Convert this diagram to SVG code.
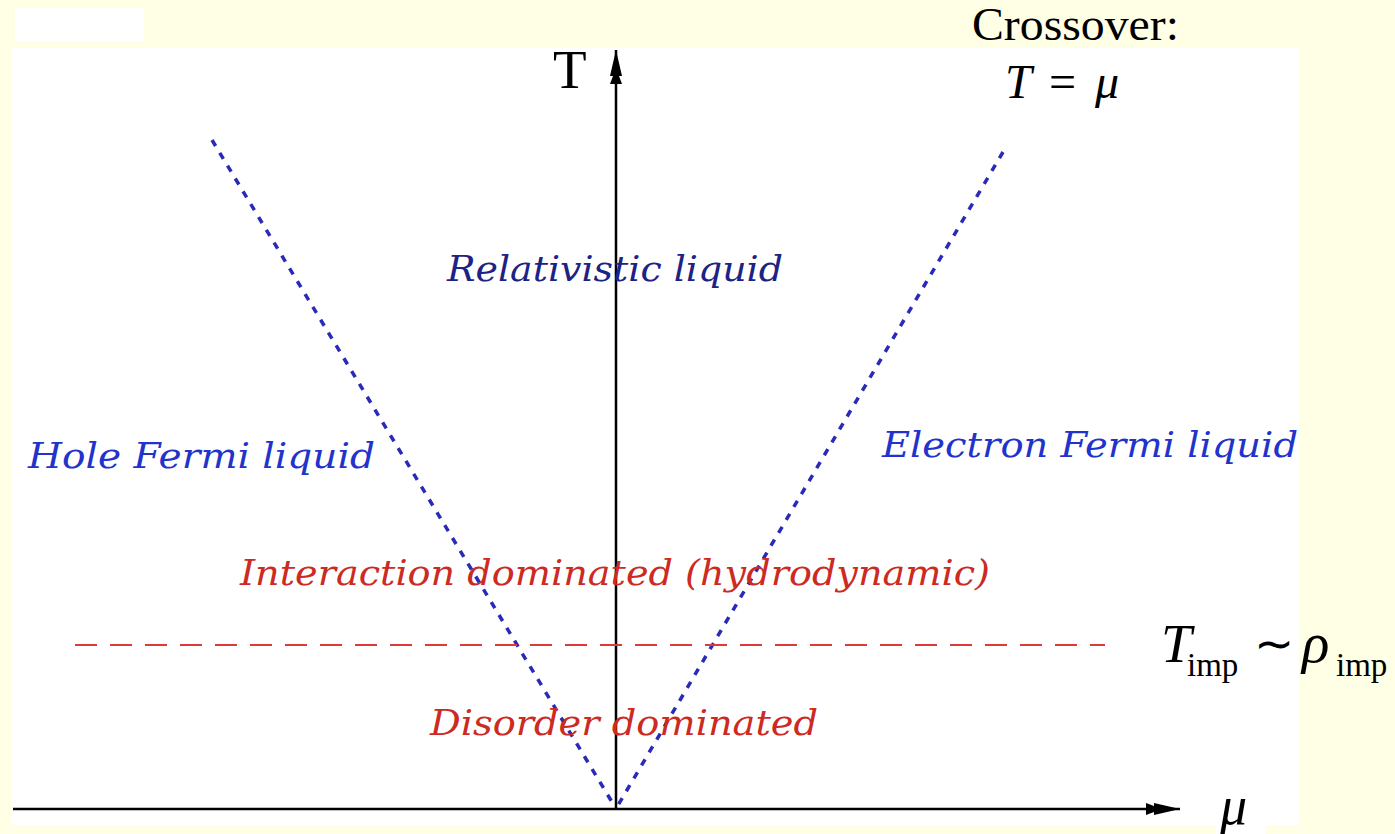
<svg xmlns="http://www.w3.org/2000/svg" width="1395" height="834" viewBox="0 0 1395 834">
<defs>
<style>
.bg{fill:#ffffe6}
.panel{fill:#ffffff}
.axis{stroke:#000;stroke-width:2.5;fill:none}
.cross{stroke:#2a2ab8;stroke-width:3.5;stroke-dasharray:7 8;fill:none}
.imp{stroke:#dd3a3a;stroke-width:2;stroke-dasharray:22 13;fill:none}
.lbl{font-family:"DejaVu Serif","Liberation Serif",serif;font-style:italic}
.math{font-family:"Liberation Serif","Times New Roman",serif;fill:#000}
.blue{fill:#2233cc}
.navy{fill:#1c2384}
.red{fill:#cc2a22}
</style>
<marker id="ah" viewBox="0 0 36 16" refX="34" refY="8" markerWidth="36" markerHeight="16" markerUnits="userSpaceOnUse" orient="auto">
<path d="M0,2 L8,5 L8,2 L34,8 L8,14 L8,11 L0,14 Z" fill="#000"/>
</marker>
</defs>
<rect class="bg" x="0" y="0" width="1395" height="834"/>
<rect class="panel" x="15" y="8" width="129" height="33"/>
<rect class="panel" x="11" y="48" width="1288" height="777"/>
<rect class="panel" x="1216" y="820" width="49" height="14"/>

<g id="connectors">
<line class="axis" x1="13" y1="809" x2="1180" y2="809" marker-end="url(#ah)"/>
<line class="axis" x1="616" y1="809" x2="616" y2="50" marker-end="url(#ah)"/>
<line class="cross" x1="212" y1="140" x2="615" y2="807"/>
<line class="cross" x1="1003" y1="152" x2="617" y2="807"/>
<line class="imp" x1="75" y1="645" x2="1105" y2="645"/>
</g>

<g id="axis-T"><text class="math" x="553" y="88" font-size="55">T</text></g>
<g id="axis-mu"><text class="math" x="1220" y="824" font-size="54" font-style="italic">μ</text></g>
<g id="crossover">
<text class="math" x="972" y="40" font-size="47" textLength="207" lengthAdjust="spacingAndGlyphs">Crossover:</text>
<text class="math" x="1005" y="98" font-size="48" font-style="italic">T</text>
<text class="math" x="1049" y="98" font-size="48">=</text>
<text class="math" x="1095" y="98" font-size="48" font-style="italic">μ</text>
</g>
<g id="impurity">
<text class="math" x="1161" y="662" font-size="55" font-style="italic">T</text>
<text class="math" x="1187" y="676" font-size="33">imp</text>
<text class="math" x="1254" y="660" font-size="48">∼</text>
<text class="math" x="1302" y="662" font-size="57" font-style="italic">ρ</text>
<text class="math" x="1336" y="676" font-size="33">imp</text>
</g>
<g id="relativistic"><text class="lbl navy" x="447" y="281" font-size="36" textLength="336" lengthAdjust="spacingAndGlyphs">Relativistic liquid</text></g>
<g id="hole"><text class="lbl blue" x="28" y="468" font-size="36" textLength="347" lengthAdjust="spacingAndGlyphs">Hole Fermi liquid</text></g>
<g id="electron"><text class="lbl blue" x="882" y="457" font-size="36" textLength="416" lengthAdjust="spacingAndGlyphs">Electron Fermi liquid</text></g>
<g id="interaction"><text class="lbl red" x="240" y="585" font-size="36" textLength="750" lengthAdjust="spacingAndGlyphs">Interaction dominated (hydrodynamic)</text></g>
<g id="disorder"><text class="lbl red" x="430" y="735" font-size="36" textLength="388" lengthAdjust="spacingAndGlyphs">Disorder dominated</text></g>
</svg>
